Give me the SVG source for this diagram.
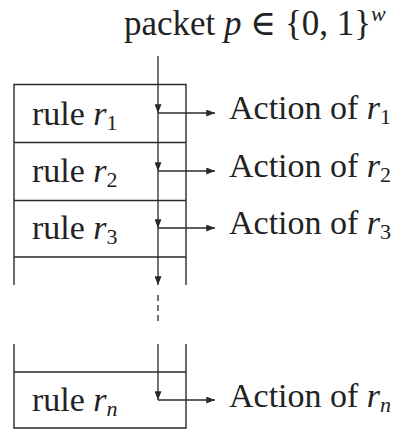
<svg xmlns="http://www.w3.org/2000/svg" width="398" height="430" viewBox="0 0 398 430">
<style>
.b{fill:none;stroke:#2a2a2a;stroke-width:1.4}
.c{fill:none;stroke:#2a2a2a;stroke-width:1.3}
.t{font-family:"Liberation Serif","DejaVu Serif",serif;fill:#222}
.r{font-size:34px}
.a{font-size:34px}
.h{font-size:35px}
.i{font-style:italic}
.s{font-size:22px}
</style>
<defs>
<marker id="ah" viewBox="0 0 10 8" refX="10" refY="4" markerWidth="10" markerHeight="7" markerUnits="userSpaceOnUse" orient="auto">
<path d="M0,0 L10,4 L0,8 Z" fill="#2a2a2a"/>
</marker>
</defs>
<rect width="398" height="430" fill="#fff"/>
<g id="title"><text class="t h" x="124" y="35">packet <tspan class="i">p</tspan> ∈ {0, 1}<tspan class="i s" dy="-14">w</tspan></text></g>
<g id="table">
<path class="b" d="M14,285 V84.5 H186 V285 M14,142.5 H186 M14,200.5 H186 M14,257 H186"/>
<path class="b" d="M14,344 V428 H186 V344 M14,372 H186"/>
</g>
<g id="rule1"><text class="t r" x="32" y="125">rule <tspan class="i">r</tspan><tspan class="s" dy="5">1</tspan></text></g>
<g id="rule2"><text class="t r" x="32" y="182">rule <tspan class="i">r</tspan><tspan class="s" dy="5">2</tspan></text></g>
<g id="rule3"><text class="t r" x="32" y="239">rule <tspan class="i">r</tspan><tspan class="s" dy="5">3</tspan></text></g>
<g id="rulen"><text class="t r" x="32" y="411">rule <tspan class="i">r</tspan><tspan class="i s" dy="5">n</tspan></text></g>
<g id="action1"><text class="t a" x="229" y="119">Action of <tspan class="i">r</tspan><tspan class="s" dy="5">1</tspan></text></g>
<g id="action2"><text class="t a" x="229" y="177">Action of <tspan class="i">r</tspan><tspan class="s" dy="5">2</tspan></text></g>
<g id="action3"><text class="t a" x="229" y="234">Action of <tspan class="i">r</tspan><tspan class="s" dy="5">3</tspan></text></g>
<g id="actionn"><text class="t a" x="229" y="407">Action of <tspan class="i">r</tspan><tspan class="i s" dy="5">n</tspan></text></g>
<g id="connectors">
<path class="c" d="M158,56 V113" marker-end="url(#ah)"/>
<path class="c" d="M158,113 V171" marker-end="url(#ah)"/>
<path class="c" d="M158,171 V228" marker-end="url(#ah)"/>
<path class="c" d="M158,228 V285" marker-end="url(#ah)"/>
<path class="c" d="M158,295 V325" stroke-dasharray="6,4"/>
<path class="c" d="M158,344 V400" marker-end="url(#ah)"/>
<path class="c" d="M158,113 H215" marker-end="url(#ah)"/>
<path class="c" d="M158,171 H215" marker-end="url(#ah)"/>
<path class="c" d="M158,228 H215" marker-end="url(#ah)"/>
<path class="c" d="M158,400 H215" marker-end="url(#ah)"/>
</g>
</svg>
